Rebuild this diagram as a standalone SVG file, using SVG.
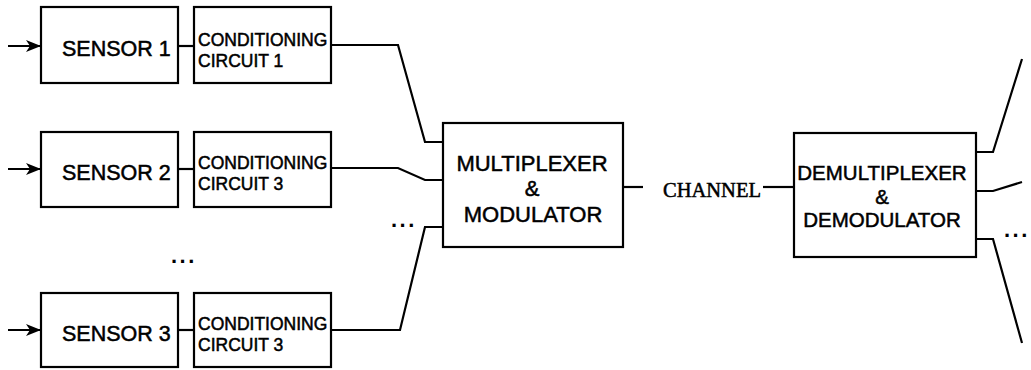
<svg xmlns="http://www.w3.org/2000/svg" width="1031" height="370" viewBox="0 0 1031 370">
<style>
.box{fill:#fff;stroke:#000;stroke-width:2.2}
.ln{fill:none;stroke:#000;stroke-width:2.2}
.t{font-family:"Liberation Sans",Arial,sans-serif;fill:#000;stroke:#000;stroke-width:0.5}
.big{font-size:21.5px}
.small{font-size:17.5px}
.mid{font-size:22px;text-anchor:middle}
.dm{font-size:20.5px;text-anchor:middle}
.ch{font-family:"Liberation Serif","Times New Roman",serif;font-size:20.5px;fill:#000;stroke:#000;stroke-width:0.5}
.dots{font-family:"Liberation Sans",Arial,sans-serif;font-size:22px;font-weight:bold;letter-spacing:2.5px;fill:#000}
</style>
<defs>
<marker id="ah" markerWidth="16" markerHeight="12" refX="15" refY="6" orient="auto" markerUnits="userSpaceOnUse">
<path d="M0,0 L15,6 L0,12 L4,6 Z" fill="#000"/>
</marker>
</defs>
<rect width="1031" height="370" fill="#fff"/>
<g id="connectors">
<line class="ln" x1="8" y1="46" x2="41" y2="46" marker-end="url(#ah)"/>
<line class="ln" x1="8" y1="169" x2="41" y2="169" marker-end="url(#ah)"/>
<line class="ln" x1="8" y1="330" x2="41" y2="330" marker-end="url(#ah)"/>
<line class="ln" x1="178" y1="46" x2="194" y2="46"/>
<line class="ln" x1="178" y1="169" x2="194" y2="169"/>
<line class="ln" x1="178" y1="330" x2="194" y2="330"/>
<polyline class="ln" points="331,45 398,45 425,142 443,142"/>
<polyline class="ln" points="331,168 398,168 425,180 443,180"/>
<polyline class="ln" points="331,330 400,330 425,227 443,227"/>
<line class="ln" x1="623" y1="187" x2="643" y2="187"/>
<line class="ln" x1="763" y1="187" x2="794" y2="187"/>
<polyline class="ln" points="976,152 993,152 1022,59"/>
<polyline class="ln" points="976,191 993,191 1022,182"/>
<polyline class="ln" points="976,239 993,239 1022,343"/>
</g>
<g id="sensor1">
<rect class="box" x="41" y="7" width="137" height="76"/>
<text class="t big" x="62" y="56">SENSOR 1</text>
</g>
<g id="cond1">
<rect class="box" x="194" y="7" width="137" height="76"/>
<text class="t small" x="198" y="46">CONDITIONING</text>
<text class="t small" x="198" y="67">CIRCUIT 1</text>
</g>
<g id="sensor2">
<rect class="box" x="41" y="132" width="137" height="75"/>
<text class="t big" x="62" y="180">SENSOR 2</text>
</g>
<g id="cond2">
<rect class="box" x="194" y="132" width="137" height="75"/>
<text class="t small" x="198" y="169">CONDITIONING</text>
<text class="t small" x="198" y="190">CIRCUIT 3</text>
</g>
<g id="sensor3">
<rect class="box" x="41" y="293" width="137" height="74"/>
<text class="t big" x="62" y="341">SENSOR 3</text>
</g>
<g id="cond3">
<rect class="box" x="194" y="293" width="137" height="74"/>
<text class="t small" x="198" y="330">CONDITIONING</text>
<text class="t small" x="198" y="351">CIRCUIT 3</text>
</g>
<g id="mux">
<rect class="box" x="443" y="123" width="180" height="124"/>
<text class="t mid" x="532" y="171">MULTIPLEXER</text>
<text class="t mid" x="532" y="196">&amp;</text>
<text class="t mid" x="533" y="222">MODULATOR</text>
</g>
<g id="channel">
<text class="ch" x="663" y="197">CHANNEL</text>
</g>
<g id="demux">
<rect class="box" x="794" y="133" width="182" height="124"/>
<text class="t dm" x="882" y="180">DEMULTIPLEXER</text>
<text class="t dm" x="882" y="204">&amp;</text>
<text class="t dm" x="882" y="227">DEMODULATOR</text>
</g>
<g id="ellipses">
<text class="dots" x="171" y="263">...</text>
<text class="dots" x="391" y="227">...</text>
<text class="dots" x="1004" y="237">...</text>
</g>
</svg>
